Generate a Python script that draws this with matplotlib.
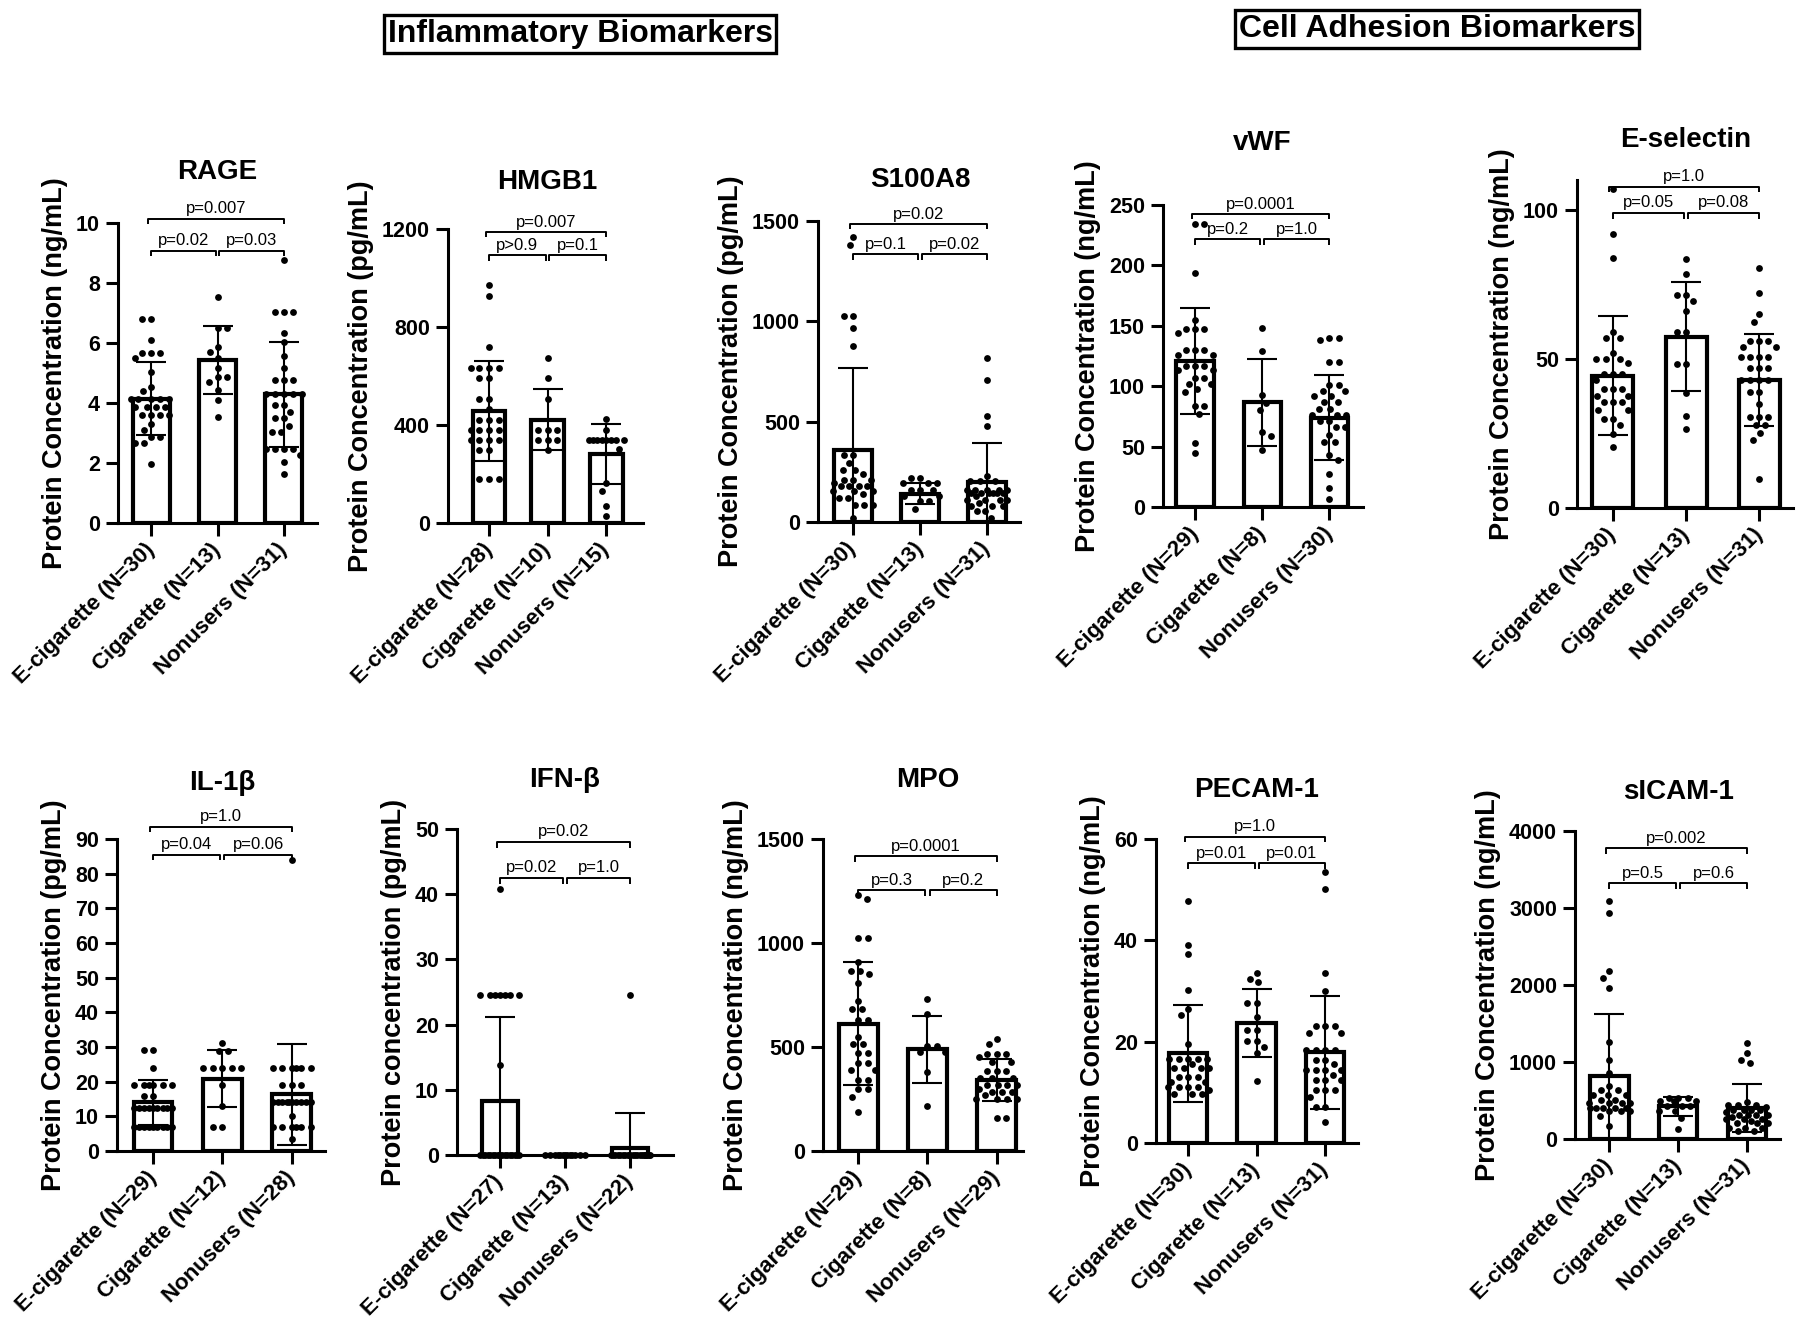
import matplotlib.pyplot as plt
from matplotlib import font_manager
import numpy as np

plt.rcParams['font.family'] = ['Liberation Sans', 'DejaVu Sans']
plt.rcParams['font.weight'] = 'bold'

W, H = 1800, 1343
groups = ['E-cigarette', 'Cigarette', 'Nonusers']

# ---- data (mean, SD, individual values) ----
rage_n = [30, 13, 31]
rage_mean = [4.14, 5.43, 4.29]
rage_sd = [1.22, 1.14, 1.76]
rage_ecig = [6.8, 6.8, 6.1, 5.66, 5.66, 5.66, 5.49, 5.02, 4.54, 4.41, 4.15, 4.15, 4.15, 4.15, 4.15,
             3.88, 3.88, 3.88, 3.88, 3.6, 3.6, 3.6, 3.6, 3.3, 3.1, 2.87, 2.87, 2.67, 2.67, 1.98]
rage_cig = [7.52, 6.49, 6.49, 5.88, 5.71, 5.49, 5.16, 4.86, 4.86, 4.71, 4.43, 4.10, 3.54]
rage_non = [8.78, 7.03, 7.03, 7.03, 6.35, 6.05, 5.57, 5.16, 4.77, 4.77, 4.77, 4.3, 4.3, 4.3, 4.3, 4.3,
            3.93, 3.93, 3.71, 3.49, 3.49, 3.24, 3.04, 3.04, 2.48, 2.48, 2.48, 2.48, 2.26, 2.04, 1.65]
rage_p = ['p=0.02', 'p=0.03', 'p=0.007']

hmgb1_n = [28, 10, 15]
hmgb1_mean = [456, 422, 282]
hmgb1_sd = [204, 125, 123]
hmgb1_ecig = [970, 928, 718, 633, 633, 633, 633, 592, 592, 506, 506, 465, 419, 419, 419,
              381, 381, 381, 381, 340, 340, 340, 340, 297, 297, 180, 180, 180]
hmgb1_cig = [673, 592, 506, 381, 381, 381, 340, 340, 340, 297]
hmgb1_non = [424, 381, 337, 337, 337, 337, 337, 337, 337, 337, 302, 163, 129, 68, 27]
hmgb1_p = ['p>0.9', 'p=0.1', 'p=0.007']

s100_n = [30, 13, 31]
s100_mean = [360, 141, 197]
s100_sd = [405, 53, 196]
s100_ecig = [1422, 1380, 1029, 1029, 969, 878, 335, 335, 294, 260, 260, 211, 211, 211, 177, 177,
             177, 177, 153, 153, 153, 119, 119, 86, 86, 86, 20, 240, 195, 140]
s100_cig = [219, 219, 194, 194, 194, 161, 161, 161, 128, 128, 103, 103, 65]
s100_non = [816, 708, 526, 476, 227, 202, 202, 202, 161, 161, 161, 161, 161, 144, 144, 144, 144,
            144, 144, 111, 111, 111, 111, 78, 78, 78, 53, 53, 20, 130, 95]
s100_p = ['p=0.1', 'p=0.02', 'p=0.02']

vwf_n = [29, 8, 30]
vwf_mean = [120.7, 86.7, 74]
vwf_sd = [44, 36, 35]
vwf_ecig = [234, 234, 194, 155, 147, 147, 147, 144, 130, 130, 130, 126, 126, 117, 117, 117, 113,
            113, 107, 107, 102, 102, 98, 95, 84, 84, 77, 53, 45]
vwf_cig = [148, 129, 93, 86, 80, 62, 59, 47]
vwf_non = [140, 140, 138, 120, 120, 101, 101, 96, 96, 92, 92, 87, 87, 81, 81, 76, 76, 76, 71, 71,
           66, 66, 60, 54, 54, 43, 39, 27, 16, 7]
vwf_p = ['p=0.2', 'p=1.0', 'p=0.0001']

esel_n = [30, 13, 31]
esel_mean = [44.4, 57.5, 43]
esel_sd = [20, 18.2, 15.4]
esel_ecig = [107, 92, 84, 59, 57, 57, 52, 50, 50, 50, 48.5, 45, 45, 45, 43, 40, 40, 40, 37.7, 37.7,
             35.5, 35.5, 35.5, 33, 33, 30, 30, 28, 24.7, 20.5]
esel_cig = [83.5, 78.5, 71.5, 71.5, 69.5, 66, 59, 59, 48.3, 48.3, 38.6, 31, 26.6]
esel_non = [80.4, 72, 65, 62.5, 56, 56, 56, 54, 54, 50.5, 50.5, 50.5, 50.5, 47, 47, 47, 43, 43, 43,
            43, 39, 39, 35, 30.5, 30.5, 30.5, 27.7, 27.7, 25, 22.9, 9.6]
esel_p = ['p=0.05', 'p=0.08', 'p=1.0']

il1b_n = [29, 12, 28]
il1b_mean = [14, 20.8, 16.3]
il1b_sd = [6.5, 8.2, 14.5]
il1b_ecig = [29, 29, 24, 19, 19, 19, 19, 19, 19, 16, 16] + [12.5] * 9 + [7] * 9
il1b_cig = [31.2, 28.8, 28.8, 23.8, 23.8, 23.8, 23.8, 23.8, 19, 13, 7, 7]
il1b_non = [83.8] + [23.8] * 6 + [19] * 3 + [14.2] * 10 + [10] + [7] * 6 + [3.4]
il1b_p = ['p=0.04', 'p=0.06', 'p=1.0']

ifnb_n = [27, 13, 22]
ifnb_mean = [8.3, 0, 1.0]
ifnb_sd = [12.8, 0, 5.4]
ifnb_ecig = [40.8] + [24.6] * 7 + [13.8] + [0] * 18
ifnb_cig = [0] * 13
ifnb_non = [24.6] + [0] * 21
ifnb_p = ['p=0.02', 'p=1.0', 'p=0.02']

mpo_n = [29, 8, 29]
mpo_mean = [611, 489, 341]
mpo_sd = [296, 160, 100]
mpo_ecig = [1231, 1210, 1026, 1026, 910, 867, 867, 849, 806, 721, 681, 681, 630, 630, 550, 514, 514,
            473, 473, 421, 421, 389, 389, 341, 341, 296, 296, 261, 186]
mpo_cig = [729, 659, 505, 505, 478, 478, 381, 218]
mpo_non = [537, 514, 465, 465, 465, 450, 429, 429, 385, 385, 385, 353, 353, 353, 317, 317, 317, 317,
           285, 285, 285, 250, 250, 250, 250, 157, 157, 300, 270]
mpo_p = ['p=0.3', 'p=0.2', 'p=0.0001']

pecam_n = [30, 13, 31]
pecam_mean = [17.7, 23.6, 17.9]
pecam_sd = [9.6, 6.7, 11.2]
pecam_ecig = [47.8, 39.1, 37.3, 30.2, 26.4, 25.2, 19.6] + [16.5] * 5 + [14.8] * 4 + [13.1] * 3 + \
             [12, 12] + [11] * 4 + [9.7] * 3 + [10.5, 15.5]
pecam_cig = [33.6, 32.4, 31.8, 27.6, 27.6, 24.8, 22.3, 22.3, 20.2, 20.2, 19, 17.8, 12.3]
pecam_non = [53.5, 50.2, 33.6, 30, 23, 23, 23, 21.7, 21.7] + [18.4] * 4 + [16.4] * 2 + [14.4] * 4 + \
            [12.5] * 3 + [10.5] * 3 + [9.1, 7.2, 7.2, 4.1, 15.5, 13.5]
pecam_p = ['p=0.01', 'p=0.01', 'p=1.0']

sicam_n = [30, 13, 31]
sicam_mean = [813, 424, 402]
sicam_sd = [813, 121, 316]
sicam_ecig = [3092, 2940, 2184, 2097, 1959, 1258, 1020, 856, 683, 640, 640, 575, 575, 575, 510, 510,
              467, 467, 467, 467, 402, 402, 402, 402, 402, 359, 359, 359, 294, 164]
sicam_cig = [532, 532, 532, 489, 489, 489, 424, 424, 424, 359, 359, 272, 134]
sicam_non = [1245, 1116, 1029, 986, 476, 445, 445, 445, 380, 380, 380, 380, 316, 316, 316, 316,
             259, 259, 259, 208, 208, 208, 143, 143, 143, 100, 100, 420, 350, 290, 230]
sicam_p = ['p=0.5', 'p=0.6', 'p=0.002']

conc_ng = 'Protein Concentration (ng/mL)'
conc_pg = 'Protein Concentration (pg/mL)'

# layout: box(left,right,top,bottom px), ymax, ystep, xlim, title offset px, bracket heights
panels = [
    ('RAGE', conc_ng, rage_n, rage_mean, rage_sd, [rage_ecig, rage_cig, rage_non], rage_p,
     (118, 317, 223, 523), 10, 2, (-0.5, 2.5), 51, (1.014, 0.907)),
    ('HMGB1', conc_pg, hmgb1_n, hmgb1_mean, hmgb1_sd, [hmgb1_ecig, hmgb1_cig, hmgb1_non], hmgb1_p,
     (448, 643, 229, 523), 1200, 400, (-0.7, 2.63), 47, (0.99, 0.91)),
    ('S100A8', conc_pg, s100_n, s100_mean, s100_sd, [s100_ecig, s100_cig, s100_non], s100_p,
     (818, 1020, 221, 522), 1500, 500, (-0.52, 2.49), 41, (0.99, 0.89)),
    ('vWF', conc_ng, vwf_n, vwf_mean, vwf_sd, [vwf_ecig, vwf_cig, vwf_non], vwf_p,
     (1163, 1363, 205, 507), 250, 50, (-0.48, 2.5), 62, (0.97, 0.887)),
    ('E-selectin', conc_ng, esel_n, esel_mean, esel_sd, [esel_ecig, esel_cig, esel_non], esel_p,
     (1577, 1793, 180, 508), 110, 50, (-0.49, 2.46), 40, (0.98, 0.90)),
    ('IL-1β', conc_pg, il1b_n, il1b_mean, il1b_sd, [il1b_ecig, il1b_cig, il1b_non], il1b_p,
     (117, 325, 839, 1151), 90, 10, (-0.52, 2.48), 56, (1.04, 0.95)),
    ('IFN-β', 'Protein concentration (pg/mL)', ifnb_n, ifnb_mean, ifnb_sd,
     [ifnb_ecig, ifnb_cig, ifnb_non], ifnb_p,
     (457, 673, 829, 1155), 50, 10, (-0.66, 2.66), 49, (0.96, 0.85)),
    ('MPO', conc_ng, mpo_n, mpo_mean, mpo_sd, [mpo_ecig, mpo_cig, mpo_non], mpo_p,
     (823, 1023, 839, 1151), 1500, 500, (-0.51, 2.38), 59, (0.945, 0.835)),
    ('PECAM-1', conc_ng, pecam_n, pecam_mean, pecam_sd, [pecam_ecig, pecam_cig, pecam_non], pecam_p,
     (1156, 1358, 839, 1143), 60, 20, (-0.47, 2.48), 49, (1.007, 0.92)),
    ('sICAM-1', conc_ng, sicam_n, sicam_mean, sicam_sd, [sicam_ecig, sicam_cig, sicam_non], sicam_p,
     (1575, 1780, 831, 1139), 4000, 1000, (-0.5, 2.48), 39, (0.944, 0.83)),
]


def swarm(ax, xc, vals, d=9.0, half=0.3):
    # beeswarm in pixel space, squeezed into +-half (data units) around the bar
    vals = np.asarray(vals, dtype=float)
    pix = ax.transData.transform(np.column_stack([np.full(len(vals), xc), vals]))
    cx = pix[0, 0]
    lim = ax.transData.transform((xc + half, 0))[0] - cx
    ys = pix[:, 1]
    cands = np.linspace(-lim, lim, 49)
    cands = cands[np.argsort(np.abs(cands), kind='stable')]
    placed = []
    out = np.zeros(len(vals))
    for k in np.argsort(-ys, kind='stable'):
        y = ys[k]
        if placed:
            P = np.array(placed)
            dist = np.sqrt((cands[:, None] - P[None, :, 0]) ** 2 + (y - P[None, :, 1]) ** 2).min(axis=1)
            ok = np.where(dist >= d)[0]
            c = cands[ok[0]] if len(ok) else cands[np.argmax(dist)]
        else:
            c = 0.0
        placed.append((c, y))
        out[k] = cx + c
    return ax.transData.inverted().transform(np.column_stack([out, ys]))[:, 0]


def bracket(ax, x1, x2, y, ymax, text):
    drop = 0.018 * ymax
    ax.plot([x1, x1, x2, x2], [y - drop, y, y, y - drop], color='black', lw=1.4,
            clip_on=False, solid_capstyle='butt')
    ax.text((x1 + x2) / 2, y + 0.008 * ymax, text, ha='center', va='bottom',
            fontsize=12, fontweight='normal')


fig = plt.figure(figsize=(W / 100, H / 100), dpi=100)

for (title, ylab, ns, means, sds, pts, pv, box, ymax, ystep, xlim, toff, br) in panels:
    l, r, t, b = box
    ax = fig.add_axes([l / W, 1 - b / H, (r - l) / W, (b - t) / H])
    ax.set_xlim(*xlim)
    ax.set_ylim(0, ymax)
    x = np.arange(3)
    ax.bar(x, means, width=0.56, color='white', edgecolor='black', linewidth=3.0, zorder=1)
    for i in range(3):
        xs = swarm(ax, i, pts[i])
        ax.scatter(xs, pts[i], s=24, color='black', linewidths=0, zorder=3, clip_on=False)
    ax.errorbar(x, means, yerr=sds, fmt='none', ecolor='black', elinewidth=1.5,
                capsize=11, capthick=1.5, zorder=4)

    for s in ['top', 'right']:
        ax.spines[s].set_visible(False)
    for s in ['left', 'bottom']:
        ax.spines[s].set_linewidth(2.2)
    ax.set_yticks(np.arange(0, ymax + 1e-9, ystep))
    ax.set_xticks(x)
    ax.set_xticklabels([f'{g} (N={n})' for g, n in zip(groups, ns)], rotation=45,
                       ha='right', va='center', rotation_mode='anchor', fontsize=16)
    ax.tick_params(axis='both', width=2.2, length=9, labelsize=15.5)
    ax.tick_params(axis='x', labelsize=16, pad=8)
    ax.tick_params(axis='y', pad=4)
    ax.set_ylabel(ylab, fontsize=19.5, fontweight='bold', labelpad=6)

    bracket(ax, 0.0, 0.97, br[1] * ymax, ymax, pv[0])
    bracket(ax, 1.03, 2.0, br[1] * ymax, ymax, pv[1])
    bracket(ax, -0.05, 2.0, br[0] * ymax, ymax, pv[2])

    ax.annotate(title, xy=(1, 1), xycoords=('data', 'axes fraction'),
                xytext=(0, toff * 0.72), textcoords='offset points',
                ha='center', va='center', fontsize=20, fontweight='bold')

# section headers (condensed face if available)
names = {f.name for f in font_manager.fontManager.ttflist}
if 'Liberation Sans Narrow' in names:
    head_font, head_size = ['Liberation Sans Narrow', 'Liberation Sans'], 27
else:
    head_font, head_size = ['Liberation Sans', 'DejaVu Sans'], 23
box_style = dict(boxstyle='square,pad=0.12', fc='white', ec='black', lw=2.4)
fig.text(580 / W, 1 - 34 / H, 'Inflammatory Biomarkers', ha='center', va='center',
         fontsize=head_size, fontweight='bold', family=head_font, bbox=box_style)
fig.text(1437 / W, 1 - 29 / H, 'Cell Adhesion Biomarkers', ha='center', va='center',
         fontsize=head_size, fontweight='bold', family=head_font, bbox=box_style)

fig.savefig('out.png', dpi=100, facecolor='white')
